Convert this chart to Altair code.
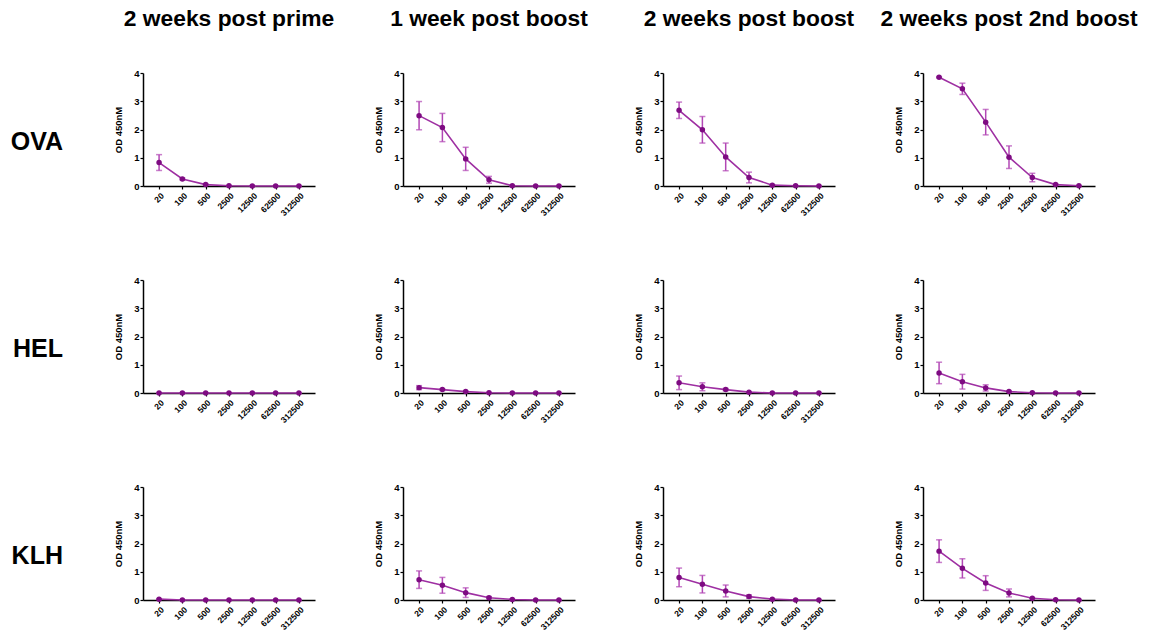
import altair as alt
import pandas as pd

DILUTIONS = ["20", "100", "500", "2500", "12500", "62500", "312500"]
TIMEPOINTS = ["2 weeks post prime", "1 week post boost", "2 weeks post boost", "2 weeks post 2nd boost"]
ANTIGENS = ["OVA", "HEL", "KLH"]
Y_TICKS = [0, 1, 2, 3, 4]

# mean OD per timepoint (rows of lists follow TIMEPOINTS)
OVA_MEAN = [
    [0.83, 0.25, 0.05, 0.01, 0.00, 0.00, 0.00],
    [2.49, 2.07, 0.96, 0.22, 0.01, 0.00, 0.00],
    [2.68, 1.99, 1.03, 0.30, 0.03, 0.01, 0.00],
    [3.85, 3.44, 2.26, 1.02, 0.30, 0.05, 0.01],
]
OVA_ERR = [
    [0.28, 0.03, 0.02, 0.00, 0.00, 0.00, 0.00],
    [0.50, 0.50, 0.41, 0.12, 0.00, 0.00, 0.00],
    [0.29, 0.47, 0.49, 0.19, 0.01, 0.00, 0.00],
    [0.02, 0.20, 0.45, 0.40, 0.15, 0.02, 0.00],
]
HEL_MEAN = [
    [0.00, 0.00, 0.00, 0.00, 0.00, 0.00, 0.00],
    [0.19, 0.12, 0.05, 0.01, 0.00, 0.00, 0.00],
    [0.36, 0.22, 0.12, 0.03, 0.00, 0.00, 0.00],
    [0.71, 0.40, 0.18, 0.05, 0.01, 0.00, 0.00],
]
HEL_ERR = [
    [0.00, 0.00, 0.00, 0.00, 0.00, 0.00, 0.00],
    [0.07, 0.03, 0.02, 0.00, 0.00, 0.00, 0.00],
    [0.24, 0.14, 0.04, 0.01, 0.00, 0.00, 0.00],
    [0.38, 0.26, 0.11, 0.02, 0.00, 0.00, 0.00],
]
KLH_MEAN = [
    [0.03, 0.00, 0.00, 0.00, 0.00, 0.00, 0.00],
    [0.72, 0.52, 0.26, 0.08, 0.02, 0.00, 0.00],
    [0.80, 0.56, 0.32, 0.12, 0.03, 0.00, 0.00],
    [1.73, 1.12, 0.60, 0.25, 0.06, 0.01, 0.00],
]
KLH_ERR = [
    [0.01, 0.00, 0.00, 0.00, 0.00, 0.00, 0.00],
    [0.31, 0.28, 0.17, 0.04, 0.01, 0.00, 0.00],
    [0.33, 0.31, 0.21, 0.06, 0.01, 0.00, 0.00],
    [0.40, 0.34, 0.26, 0.14, 0.02, 0.00, 0.00],
]

MEANS = {"OVA": OVA_MEAN, "HEL": HEL_MEAN, "KLH": KLH_MEAN}
ERRS = {"OVA": OVA_ERR, "HEL": HEL_ERR, "KLH": KLH_ERR}

rows = []
for ag in ANTIGENS:
    for ti, tp in enumerate(TIMEPOINTS):
        for di, d in enumerate(DILUTIONS):
            m = MEANS[ag][ti][di]
            e = ERRS[ag][ti][di]
            rows.append({"antigen": ag, "timepoint": tp, "dilution": d,
                         "od": m, "lo": max(0.0, m - e), "hi": m + e})
df = pd.DataFrame(rows)

FONT = "Liberation Sans"
LINE_C = "#9e2fa2"
PT_C = "#7e0b82"
ERR_C = "#b247b5"

xenc = alt.X("dilution:N", sort=DILUTIONS, title=None,
             scale=alt.Scale(type="point", padding=0.69),
             axis=alt.Axis(labelAngle=315, labelFontSize=8.5, labelFontWeight="bold",
                           tickSize=3, labelPadding=2))
yscale = alt.Scale(domain=[0, 4], nice=False)
yaxis = alt.Axis(values=Y_TICKS, tickCount=5, title="OD 450nM", titleFontSize=9.5,
                 titleFontWeight="bold", labelFontSize=9.5, labelFontWeight="bold",
                 labelOverlap=False, tickSize=3, labelPadding=1, titlePadding=10)


def yenc(field):
    return alt.Y(field, scale=yscale, axis=yaxis, title="OD 450nM")


line = alt.Chart().mark_line(color=LINE_C, strokeWidth=1.6).encode(
    x=xenc, y=yenc("od:Q"))
err = alt.Chart().mark_rule(color=ERR_C, strokeWidth=1.5).encode(
    x=xenc, y=yenc("lo:Q"), y2="hi:Q")
cap_lo = alt.Chart().mark_tick(color=ERR_C, size=6, thickness=1.5).encode(
    x=xenc, y=yenc("lo:Q"))
cap_hi = alt.Chart().mark_tick(color=ERR_C, size=6, thickness=1.5).encode(
    x=xenc, y=yenc("hi:Q"))
pts = alt.Chart().mark_circle(color=PT_C, size=30, opacity=1).encode(
    x=xenc, y=yenc("od:Q"))

layer = alt.layer(err, cap_lo, cap_hi, line, pts, data=df).properties(width=172, height=113)

chart = layer.facet(
    row=alt.Row("antigen:N", sort=ANTIGENS, title=None,
                header=alt.Header(labelOrient="left", labelAngle=0, labelAlign="left",
                                  labelBaseline="top", labelFontSize=25,
                                  labelFontWeight="bold", labelFont=FONT,
                                  labelColor="black", labelPadding=80)),
    column=alt.Column("timepoint:N", sort=TIMEPOINTS, title=None,
                      header=alt.Header(labelFontSize=22.8, labelFontWeight="bold",
                                        labelFont=FONT, labelColor="black",
                                        labelBaseline="top", labelLimit=400,
                                        labelPadding=42)),
    spacing={"row": 94, "column": 88},
    bounds="flush",
).resolve_axis(x="independent", y="independent").properties(
    padding={"left": 2, "top": 0, "right": 0, "bottom": 0}
).configure_view(stroke=None).configure_axis(
    grid=False, domainColor="black", domainWidth=1.5, tickColor="black",
    tickWidth=1.2, labelColor="black", titleColor="black", labelFont=FONT, titleFont=FONT
).configure_axisY(tickCount=5, labelOverlap=False)

chart.save("out.html", embed_options={"renderer": "svg", "actions": False})
